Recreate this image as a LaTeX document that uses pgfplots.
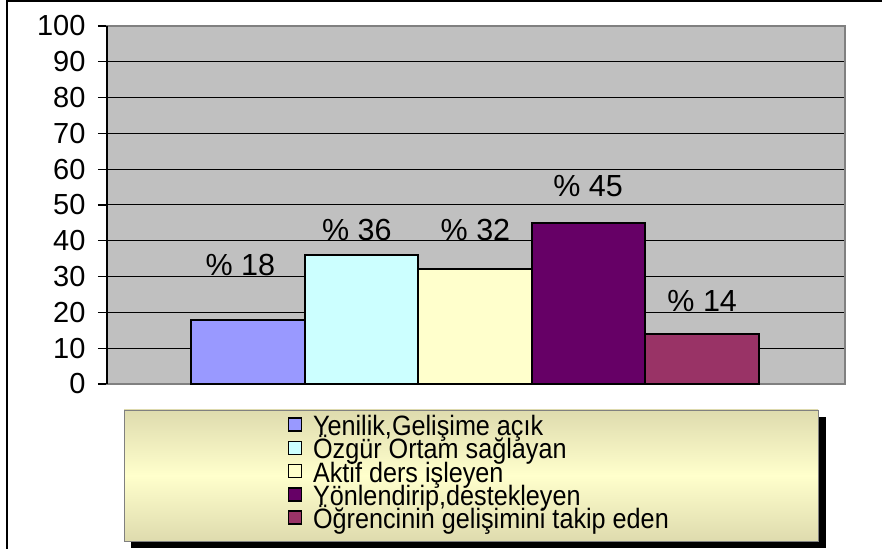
\documentclass[border=0pt]{standalone}
\usepackage{fontspec}
\setmainfont{Liberation Sans}
\newfontfamily\condfont[FakeStretch=0.9]{Liberation Sans}
\usepackage{pgfplots}
\pgfplotsset{compat=1.18}

\definecolor{plotgray}{RGB}{192,192,192}
\definecolor{framegray}{RGB}{128,128,128}
\definecolor{barA}{RGB}{153,153,255}
\definecolor{barB}{RGB}{204,255,255}
\definecolor{barC}{RGB}{255,255,204}
\definecolor{barD}{RGB}{102,0,102}
\definecolor{barE}{RGB}{153,51,102}
\definecolor{legdark}{RGB}{222,219,174}
\definecolor{leglight}{RGB}{255,255,204}

\newcommand{\bigfont}{\fontsize{29}{34}\selectfont}
\newcommand{\labfont}{\fontsize{30.5}{34}\selectfont}
\newcommand{\legfont}{\condfont\fontsize{28}{23}\selectfont}

\begin{document}
\begin{tikzpicture}
% page is 882 x 548, axis box corner at (107,384) of the picture
\useasboundingbox (-107pt,-164pt) rectangle (775pt,384pt);
\draw[black, line width=2pt] (-100pt,-170pt) -- (-100pt,383pt) -- (780pt,383pt);

% legend panel with its shadow
\fill[black] (24pt,-33pt) rectangle (719pt,-164pt);
\draw[framegray, line width=0.8pt, top color=legdark, bottom color=legdark, middle color=leglight]
  (17pt,-26pt) rectangle (711pt,-157pt);

\begin{axis}[
  at={(0pt,0pt)}, anchor=south west,
  width=738pt, height=358pt, scale only axis,
  ybar, bar width=1, bar shift=0pt,
  xmin=-0.239, xmax=6.257,
  ymin=0, ymax=100,
  ytick={0,10,...,100}, xtick=\empty,
  ytick pos=left,
  tick align=outside, major tick length=9pt,
  ytick style={black, line width=1.2pt},
  y tick label style={font=\bigfont, xshift=-9pt},
  /pgf/number format/assume math mode=true,
  axis background/.style={fill=plotgray},
  axis line style={framegray, line width=1.6pt},
  ymajorgrids, grid style={black, line width=1pt},
  clip=false,
  every axis plot/.append style={draw=black, line width=2pt},
  nodes near coords={\%\ \pgfmathprintnumber{\pgfplotspointmeta}},
  every node near coord/.append style={font=\labfont, anchor=base, inner sep=0pt, text=black},
  legend style={at={(0.503,-0.2556)}, anchor=center, draw=none, fill=none,
    font=\legfont, row sep=0pt,
    nodes={inner sep=0pt, text height=18pt, text depth=5pt},
    cells={anchor=west},
    /tikz/every odd column/.append style={column sep=11pt}},
  legend image code/.code={\draw[#1, line width=1.5pt] (0pt,-2pt) rectangle (13pt,11pt);},
  after end axis/.code={\draw[black, line width=1.6pt] (rel axis cs:0,0) -- (rel axis cs:0,1);},
]
\addplot[fill=barA, nodes near coords style={yshift=43.6pt, xshift=-7.5pt}] coordinates {(1,18)};
\addplot[fill=barB, nodes near coords style={yshift=14.4pt, xshift=-4.5pt}] coordinates {(2,36)};
\addplot[fill=barC, nodes near coords style={yshift=28.7pt, xshift=0.5pt}] coordinates {(3,32)};
\addplot[fill=barD, nodes near coords style={yshift=25.9pt, xshift=-0.5pt}] coordinates {(4,45)};
\addplot[fill=barE, nodes near coords style={yshift=21.9pt}] coordinates {(5,14)};
\legend{{Yenilik,Gelişime açık}, {Özgür Ortam sağlayan}, {Aktif ders işleyen}, {Yönlendirip,destekleyen}, {Öğrencinin gelişimini takip eden}}
\end{axis}
\end{tikzpicture}
\end{document}
